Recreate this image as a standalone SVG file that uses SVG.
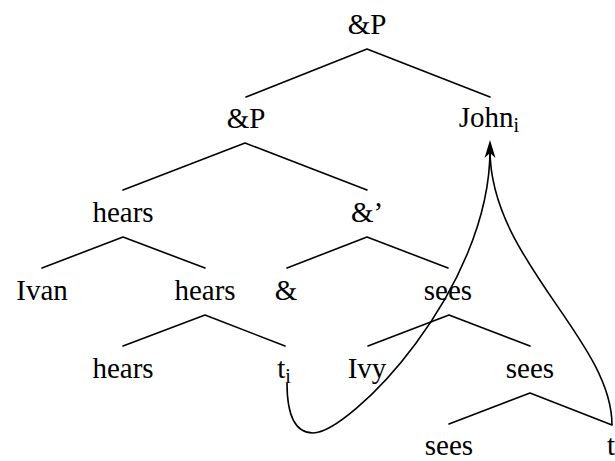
<svg xmlns="http://www.w3.org/2000/svg" width="615" height="461" viewBox="0 0 615 461">
<defs>
<path id="arrowhead" d="M0,0 L5.5,18 L0,13 L-5.5,18 Z"/>
</defs>
<rect width="615" height="461" fill="#fff"/>
<g id="connectors" stroke="#000" stroke-width="1.6" fill="none" stroke-linecap="round">
<path d="M367,49 L246,97 M367,49 L490,97"/>
<path d="M245,143 L123,190 M245,143 L367,190"/>
<path d="M123,237 L42,268 M123,237 L205,268"/>
<path d="M367,237 L287,268 M367,237 L448,268"/>
<path d="M205,315 L123,346 M205,315 L285,346"/>
<path d="M449,315 L368,346 M449,315 L530,346"/>
<path d="M530,393 L449,424 M530,393 L612,425"/>
<path stroke-linecap="butt" d="M287,383 C287,415 295,433 313,433 C350,433 490,290 490,150"/>
<path stroke-linecap="butt" d="M612,425 C612,340 490,260 490,150"/>
<use href="#arrowhead" x="490" y="140" fill="#000" stroke="none"/>
</g>
<g id="n-root"><text x="367" y="34" font-family="Times New Roman" font-size="29" text-anchor="middle">&amp;P</text></g>
<g id="n-andP"><text x="246" y="128" font-family="Times New Roman" font-size="29" text-anchor="middle">&amp;P</text></g>
<g id="n-john"><text x="489" y="127" font-family="Times New Roman" font-size="29" text-anchor="middle">John<tspan font-size="20" dy="5">i</tspan></text></g>
<g id="n-hears1"><text x="123" y="222" font-family="Times New Roman" font-size="29" text-anchor="middle">hears</text></g>
<g id="n-andbar"><text x="367" y="222" font-family="Times New Roman" font-size="29" text-anchor="middle">&amp;&#8217;</text></g>
<g id="n-ivan"><text x="42" y="300" font-family="Times New Roman" font-size="29" text-anchor="middle">Ivan</text></g>
<g id="n-hears2"><text x="205" y="300" font-family="Times New Roman" font-size="29" text-anchor="middle">hears</text></g>
<g id="n-and"><text x="286" y="300" font-family="Times New Roman" font-size="29" text-anchor="middle">&amp;</text></g>
<g id="n-sees1"><text x="448" y="300" font-family="Times New Roman" font-size="29" text-anchor="middle">sees</text></g>
<g id="n-hears3"><text x="123" y="378" font-family="Times New Roman" font-size="29" text-anchor="middle">hears</text></g>
<g id="n-ti"><text x="284" y="378" font-family="Times New Roman" font-size="29" text-anchor="middle">t<tspan font-size="20" dy="5">i</tspan></text></g>
<g id="n-ivy"><text x="367" y="378" font-family="Times New Roman" font-size="29" text-anchor="middle">Ivy</text></g>
<g id="n-sees2"><text x="530" y="378" font-family="Times New Roman" font-size="29" text-anchor="middle">sees</text></g>
<g id="n-sees3"><text x="449" y="455" font-family="Times New Roman" font-size="29" text-anchor="middle">sees</text></g>
<g id="n-t"><text x="611" y="455" font-family="Times New Roman" font-size="29" text-anchor="middle">t</text></g>
</svg>
